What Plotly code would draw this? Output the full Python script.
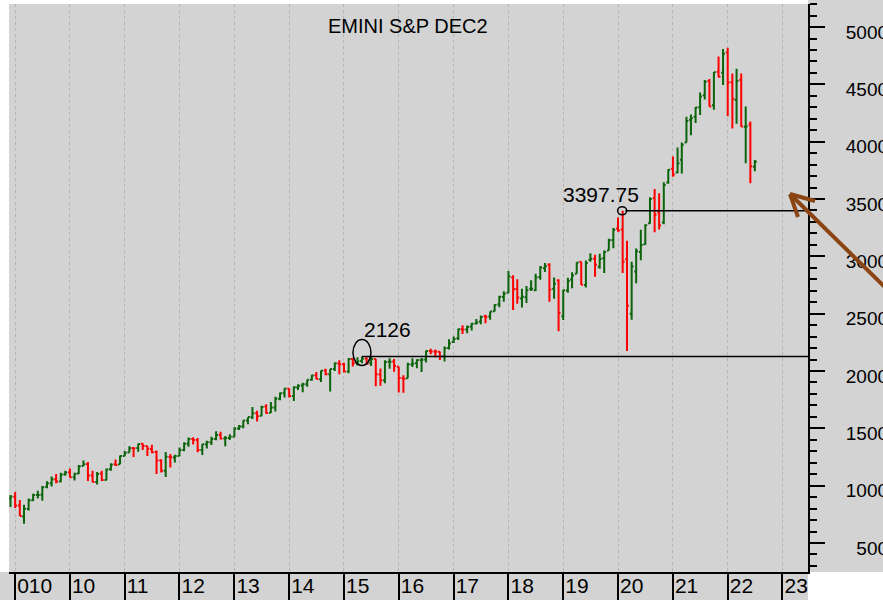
import plotly.graph_objects as go
import pandas as pd

# Monthly OHLC, Dec 2008 .. Jul 2022 (approx.)
opens = [
    888,
    903, 826, 730, 797, 873, 919, 920, 990, 1020, 1055, 1037, 1099,
    1116, 1073, 1106, 1171, 1188, 1088, 1031, 1107, 1049, 1143, 1186, 1187,
    1258, 1289, 1329, 1329, 1365, 1345, 1320, 1293, 1220, 1131, 1251, 1246,
    1258, 1312, 1366, 1408, 1398, 1310, 1362, 1379, 1407, 1441, 1412, 1416,
    1426, 1498, 1515, 1569, 1597, 1631, 1609, 1690, 1636, 1682, 1759, 1806,
    1846, 1782, 1857, 1873, 1884, 1924, 1962, 1929, 2004, 1971, 2018, 2065,
    2059, 1996, 2105, 2067, 2087, 2109, 2067, 2104, 1970, 1919, 2080, 2082,
    2038, 1937, 1937, 2057, 2067, 2094, 2100, 2174, 2171, 2168, 2129, 2201,
    2252, 2285, 2365, 2363, 2388, 2415, 2431, 2477, 2475, 2521, 2583, 2645,
    2683, 2816, 2715, 2633, 2643, 2718, 2705, 2821, 2896, 2926, 2717, 2790,
    2477, 2703, 2798, 2848, 2952, 2751, 2971, 2980, 2910, 2983, 3050, 3143,
    3244, 3235, 2974, 2499, 2869, 3038, 3106, 3289, 3508, 3385, 3296, 3645,
    3764, 3731, 3842, 3992, 4191, 4217, 4300, 4406, 4529, 4317, 4610, 4602,
    4778, 4519, 4363, 4540, 4131, 4149, 3781,
]
highs = [
    918,
    944, 876, 833, 887, 930, 956, 996, 1039, 1080, 1101, 1112, 1130,
    1150, 1113, 1180, 1220, 1206, 1131, 1120, 1130, 1150, 1196, 1228, 1263,
    1303, 1344, 1332, 1366, 1371, 1345, 1356, 1307, 1230, 1293, 1277, 1270,
    1333, 1378, 1420, 1422, 1415, 1363, 1392, 1427, 1475, 1470, 1434, 1448,
    1510, 1530, 1570, 1597, 1687, 1654, 1698, 1710, 1730, 1776, 1813, 1849,
    1850, 1867, 1884, 1897, 1924, 1968, 1991, 2005, 2019, 2018, 2075, 2093,
    2072, 2113, 2110, 2119, 2126, 2121, 2122, 2105, 2021, 2094, 2111, 2104,
    2038, 1963, 2072, 2111, 2103, 2113, 2178, 2194, 2188, 2170, 2214, 2278,
    2301, 2371, 2400, 2398, 2418, 2454, 2484, 2491, 2519, 2582, 2657, 2695,
    2873, 2835, 2801, 2718, 2742, 2791, 2848, 2916, 2941, 2940, 2815, 2800,
    2708, 2813, 2861, 2949, 2954, 2964, 3028, 3014, 3022, 3050, 3154, 3248,
    3338, 3397.75, 3137, 2954, 3068, 3233, 3280, 3515, 3588, 3550, 3646, 3760,
    3870, 3950, 3994, 4218, 4238, 4302, 4429, 4538, 4546, 4608, 4743, 4808,
    4819, 4595, 4637, 4594, 4307, 4177, 3840,
]
lows = [
    815,
    805, 735, 667, 783, 866, 889, 869, 978, 992, 1020, 1030, 1086,
    1071, 1045, 1101, 1171, 1040, 1029, 1011, 1040, 1048, 1131, 1174, 1187,
    1257, 1289, 1249, 1295, 1312, 1258, 1282, 1101, 1115, 1075, 1159, 1203,
    1258, 1300, 1340, 1358, 1292, 1267, 1325, 1355, 1397, 1403, 1343, 1399,
    1426, 1485, 1501, 1536, 1582, 1560, 1605, 1627, 1633, 1646, 1746, 1768,
    1770, 1738, 1834, 1815, 1862, 1915, 1930, 1905, 1964, 1821, 2001, 1972,
    1988, 1981, 2040, 2048, 2068, 2057, 2044, 1867, 1872, 1893, 2019, 1993,
    1812, 1810, 1937, 2034, 2025, 1992, 2075, 2147, 2119, 2097, 2084, 2188,
    2245, 2271, 2322, 2329, 2353, 2406, 2407, 2417, 2446, 2520, 2557, 2605,
    2682, 2533, 2586, 2553, 2594, 2698, 2698, 2796, 2864, 2603, 2631, 2347,
    2444, 2682, 2722, 2848, 2751, 2729, 2952, 2822, 2892, 2855, 3050, 3070,
    3214, 2855, 2174, 2447, 2766, 2966, 3102, 3284, 3210, 3234, 3280, 3633,
    3695, 3725, 3723, 3992, 4056, 4164, 4233, 4367, 4306, 4279, 4561, 4495,
    4223, 4115, 4157, 4131, 3811, 3637, 3742,
]
closes = [
    903,
    826, 735, 798, 873, 919, 919, 987, 1021, 1057, 1036, 1096, 1115,
    1074, 1104, 1169, 1187, 1089, 1031, 1102, 1049, 1141, 1183, 1181, 1258,
    1286, 1327, 1326, 1364, 1345, 1321, 1292, 1219, 1131, 1253, 1247, 1258,
    1312, 1366, 1408, 1398, 1310, 1362, 1379, 1407, 1441, 1412, 1416, 1426,
    1498, 1515, 1569, 1598, 1631, 1606, 1686, 1633, 1682, 1757, 1806, 1848,
    1783, 1859, 1872, 1884, 1924, 1960, 1931, 2003, 1972, 2018, 2068, 2059,
    1995, 2105, 2068, 2086, 2107, 2063, 2104, 1972, 1920, 2079, 2080, 2044,
    1940, 1932, 2060, 2065, 2097, 2099, 2174, 2171, 2168, 2126, 2199, 2239,
    2279, 2364, 2363, 2384, 2412, 2423, 2470, 2472, 2519, 2575, 2648, 2674,
    2824, 2714, 2641, 2648, 2705, 2718, 2816, 2902, 2914, 2712, 2760, 2507,
    2704, 2784, 2834, 2946, 2752, 2942, 2980, 2926, 2977, 3038, 3141, 3231,
    3226, 2954, 2569, 2912, 3044, 3100, 3271, 3500, 3363, 3270, 3622, 3756,
    3714, 3811, 3973, 4181, 4204, 4298, 4395, 4523, 4308, 4605, 4567, 4766,
    4516, 4374, 4530, 4132, 4132, 3785, 3825,
]
months = pd.date_range("2008-12-01", periods=len(opens), freq="MS")

year_ticks = pd.date_range("2009-01-01", "2023-01-01", freq="YS")
year_labels = ["010", "10", "11", "12", "13", "14", "15", "16", "17", "18",
               "19", "20", "21", "22", "23"]
price_ticks = [500, 1000, 1500, 2000, 2500, 3000, 3500, 4000, 4500, 5000]
price_labels = ["\u2007500", "1000", "1500", "2000", "2500", "3000", "3500",
                "4000", "4500", "5000"]

title_text = "EMINI S&P DEC2"
level_low = 2126
level_low_label = "2126"
level_low_date = "2015-05-01"
level_high = 3397.75
level_high_label = "3397.75"
level_high_date = "2020-02-01"

BG = "#d3d3d3"
FONT = "Liberation Sans, Arial, sans-serif"
BROWN = "#8b4513"

fig = go.Figure(go.Ohlc(
    x=months, open=opens, high=highs, low=lows, close=closes,
    increasing=dict(line=dict(color="#0b640b", width=2)),
    decreasing=dict(line=dict(color="#ff0000", width=2)),
    tickwidth=0.45, showlegend=False, hoverinfo="skip",
))

W, H = 883, 600
ML, MR, MT, MB = 9, 75, 4, 28
PW, PH = W - ML - MR, H - MT - MB


def px(x):
    return (x - ML) / PW


def py(y):
    return (H - MB - y) / PH


shapes = [
    # grey bands outside plot (bottom label strip and right axis strip)
    dict(type="rect", xref="paper", yref="paper", x0=px(0), x1=1, y0=py(600), y1=0,
         fillcolor=BG, line=dict(width=0), layer="below"),
    dict(type="rect", xref="paper", yref="paper", x0=1, x1=px(883), y0=0, y1=py(0),
         fillcolor=BG, line=dict(width=0), layer="below"),
    # 2126 level
    dict(type="line", xref="x", yref="y", x0=level_low_date, x1="2023-06-20",
         y0=level_low, y1=level_low, line=dict(color="black", width=1.5)),
    dict(type="circle", xref="x", yref="y", xsizemode="pixel", ysizemode="pixel",
         xanchor=level_low_date, yanchor=level_low, x0=-9, x1=9, y0=-9, y1=17,
         line=dict(color="black", width=1.5)),
    # 3397.75 level
    dict(type="line", xref="x", yref="y", x0="2020-02-20", x1="2023-06-20",
         y0=level_high, y1=level_high, line=dict(color="black", width=1.5)),
    dict(type="circle", xref="x", yref="y", xsizemode="pixel", ysizemode="pixel",
         xanchor=level_high_date, yanchor=level_high, x0=-5, x1=4, y0=-4, y1=4,
         line=dict(color="black", width=1.5)),
    # brown arrow
    dict(type="line", xref="paper", yref="paper", x0=px(790), y0=py(194),
         x1=px(900), y1=py(302), line=dict(color=BROWN, width=4), layer="above"),
    dict(type="line", xref="paper", yref="paper", x0=px(790), y0=py(194),
         x1=px(798), y1=py(217), line=dict(color=BROWN, width=4), layer="above"),
    dict(type="line", xref="paper", yref="paper", x0=px(790), y0=py(194),
         x1=px(815), y1=py(201), line=dict(color=BROWN, width=4), layer="above"),
]

annotations = [
    dict(text=title_text, xref="paper", yref="paper", x=px(408), y=py(26),
         xanchor="center", yanchor="middle", showarrow=False,
         font=dict(size=20, color="black", family=FONT)),
    dict(text=level_low_label, xref="paper", yref="paper", x=px(362), y=py(329),
         xanchor="left", yanchor="middle", showarrow=False,
         font=dict(size=21, color="black", family=FONT)),
    dict(text=level_high_label, xref="paper", yref="paper", x=px(641), y=py(194),
         xanchor="right", yanchor="middle", showarrow=False,
         font=dict(size=21, color="black", family=FONT)),
]

fig.update_layout(
    width=W, height=H,
    margin=dict(l=ML, r=MR, t=MT, b=MB, pad=0),
    paper_bgcolor="white", plot_bgcolor=BG,
    font=dict(family=FONT, color="black"),
    shapes=shapes, annotations=annotations,
    showlegend=False,
    xaxis=dict(
        type="date", range=["2008-11-21", "2023-06-20"],
        rangeslider=dict(visible=False),
        tickvals=list(year_ticks), ticktext=year_labels,
        ticks="outside", ticklen=26, tickwidth=2, tickcolor="black",
        ticklabelposition="outside right", ticklabelstandoff=-6,
        ticklabeloverflow="allow",
        tickfont=dict(size=21, family=FONT, color="black"),
        showline=True, linecolor="black", linewidth=2,
        showgrid=True, gridcolor="#b4b4b4", griddash="dot", gridwidth=1,
        zeroline=False, automargin=False, fixedrange=True,
    ),
    yaxis=dict(
        side="right", range=[247, 5201],
        tickvals=price_ticks, ticktext=price_labels,
        ticks="outside", ticklen=15, tickwidth=2, tickcolor="black",
        minor=dict(dtick=100, tick0=0, ticks="outside", ticklen=7,
                   tickwidth=2, tickcolor="black", showgrid=False),
        ticklabelstandoff=17, ticklabelshift=5, ticklabeloverflow="allow",
        tickfont=dict(size=19, family=FONT, color="black"),
        showline=True, linecolor="black", linewidth=2,
        showgrid=False, zeroline=False, automargin=False, fixedrange=True,
    ),
)

post = ("document.documentElement.style.margin='0';"
        "document.body.style.margin='0';"
        "document.body.style.padding='0';"
        "document.documentElement.style.overflow='hidden';"
        "document.body.style.overflow='hidden';")

fig.write_html("out.html", post_script=post,
               config={"displayModeBar": False, "staticPlot": True})
